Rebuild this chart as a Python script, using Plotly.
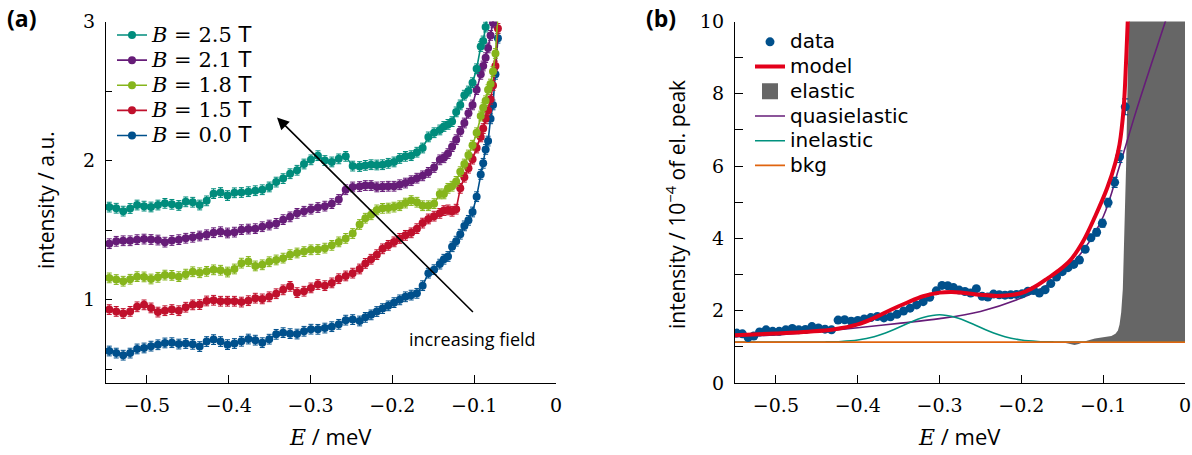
import plotly.graph_objects as go

# ---------------- panel (a) data ----------------
E_a = [-0.546, -0.5375, -0.529, -0.5205, -0.512, -0.5035, -0.495, -0.4865, -0.478, -0.4695,
       -0.461, -0.4525, -0.444, -0.4355, -0.427, -0.4185, -0.410, -0.4015, -0.393, -0.3845,
       -0.376, -0.3675, -0.359, -0.3505, -0.342, -0.3335, -0.325, -0.3165, -0.308, -0.2995,
       -0.291, -0.2825, -0.274, -0.2655, -0.257, -0.2485, -0.240, -0.233, -0.226, -0.219,
       -0.212, -0.205, -0.198, -0.191, -0.184, -0.177, -0.170, -0.163, -0.156, -0.149,
       -0.142, -0.137, -0.132, -0.127, -0.122, -0.117, -0.112, -0.107, -0.102, -0.097,
       -0.092, -0.089, -0.086, -0.083, -0.080, -0.077, -0.074, -0.071]

I_00 = [0.63, 0.615, 0.60, 0.615, 0.645, 0.652, 0.665, 0.675, 0.688, 0.69,
        0.68, 0.684, 0.678, 0.662, 0.698, 0.712, 0.698, 0.676, 0.684, 0.70,
        0.716, 0.708, 0.69, 0.715, 0.75, 0.762, 0.755, 0.752, 0.772, 0.787,
        0.786, 0.795, 0.805, 0.822, 0.852, 0.856, 0.846, 0.872, 0.89, 0.914,
        0.935, 0.955, 0.978, 0.998, 1.02, 1.032, 1.045, 1.10, 1.19, 1.215,
        1.255, 1.29, 1.31, 1.38, 1.42, 1.47, 1.53, 1.57, 1.63, 1.74,
        1.90, 1.98, 2.08, 2.14, 2.30, 2.40, 2.62, 2.88]
I_15 = [0.928, 0.915, 0.90, 0.915, 0.948, 0.962, 0.94, 0.91, 0.92, 0.928,
        0.92, 0.945, 0.962, 0.964, 0.99, 0.995, 0.988, 0.988, 0.988, 0.982,
        0.992, 1.01, 1.005, 1.02, 1.042, 1.07, 1.095, 1.05, 1.06, 1.084,
        1.108, 1.10, 1.12, 1.15, 1.17, 1.19, 1.22, 1.26, 1.29, 1.323,
        1.365, 1.39, 1.415, 1.44, 1.462, 1.48, 1.51, 1.55, 1.58, 1.60,
        1.62, 1.64, 1.645, 1.635, 1.65, 1.80, 1.88, 1.945, 2.01, 2.09,
        2.17, 2.23, 2.30, 2.36, 2.44, 2.54, 2.68, 2.95]
I_18 = [1.156, 1.144, 1.132, 1.146, 1.165, 1.163, 1.148, 1.16, 1.176, 1.174,
        1.165, 1.183, 1.20, 1.193, 1.203, 1.214, 1.211, 1.198, 1.22, 1.262,
        1.274, 1.242, 1.25, 1.272, 1.285, 1.298, 1.323, 1.335, 1.345, 1.358,
        1.36, 1.37, 1.39, 1.415, 1.44, 1.475, 1.54, 1.585, 1.61, 1.645,
        1.656, 1.658, 1.665, 1.675, 1.694, 1.712, 1.70, 1.675, 1.675, 1.69,
        1.76, 1.76, 1.80, 1.815, 1.85, 1.92, 1.975, 2.04, 2.11, 2.20,
        2.32, 2.38, 2.43, 2.51, 2.55, 2.64, 2.77, 3.05]
I_21 = [1.402, 1.419, 1.423, 1.423, 1.431, 1.435, 1.432, 1.428, 1.413, 1.425,
        1.431, 1.441, 1.448, 1.457, 1.466, 1.481, 1.488, 1.479, 1.485, 1.503,
        1.507, 1.51, 1.524, 1.536, 1.548, 1.575, 1.595, 1.62, 1.635, 1.65,
        1.662, 1.672, 1.69, 1.72, 1.79, 1.81, 1.813, 1.82, 1.82, 1.81,
        1.812, 1.815, 1.815, 1.826, 1.838, 1.855, 1.873, 1.89, 1.915, 1.95,
        2.005, 2.02, 2.05, 2.10, 2.15, 2.21, 2.27, 2.34, 2.40, 2.51,
        2.62, 2.68, 2.74, 2.81, 2.90, 2.99, 3.1, None]
I_25 = [1.665, 1.657, 1.636, 1.655, 1.68, 1.672, 1.666, 1.68, 1.692, 1.685,
        1.677, 1.703, 1.70, 1.68, 1.71, 1.762, 1.77, 1.748, 1.768, 1.77,
        1.776, 1.783, 1.79, 1.81, 1.845, 1.87, 1.905, 1.93, 1.975, 2.005,
        2.035, 2.00, 1.99, 2.012, 2.03, 1.96, 1.957, 1.965, 1.97, 1.968,
        1.97, 1.98, 1.99, 2.015, 2.03, 2.035, 2.06, 2.09, 2.17, 2.20,
        2.22, 2.245, 2.26, 2.28, 2.35, 2.40, 2.47, 2.50, 2.56, 2.66,
        2.82, 2.86, 2.96, 3.1, None, None, None, None]

fields = ["0.0", "1.5", "1.8", "2.1", "2.5"]
series_a = [I_00, I_15, I_18, I_21, I_25]
colors_a = ["#00508C", "#C0102C", "#86B51C", "#661C78", "#008C7C"]
err_a = 0.035

# ---------------- panel (b) data ----------------
E_b = [-0.548, -0.541, -0.534, -0.527, -0.520, -0.512, -0.504, -0.496, -0.488, -0.480,
       -0.472, -0.464, -0.456, -0.448, -0.440, -0.432, -0.424, -0.416, -0.408, -0.400,
       -0.392, -0.384, -0.376, -0.368, -0.360, -0.352, -0.344, -0.336, -0.328, -0.320,
       -0.312, -0.304, -0.297, -0.290, -0.283, -0.276, -0.269, -0.262, -0.255, -0.248,
       -0.241, -0.234, -0.227, -0.220, -0.213, -0.206, -0.199, -0.192, -0.185, -0.178,
       -0.171, -0.164, -0.157, -0.150, -0.143, -0.136, -0.129, -0.122, -0.115, -0.108,
       -0.101, -0.094, -0.086, -0.080, -0.073]
I_b = [1.38, 1.36, 1.26, 1.30, 1.41, 1.47, 1.43, 1.43, 1.47, 1.51,
       1.47, 1.48, 1.56, 1.52, 1.49, 1.47, 1.74, 1.75, 1.71, 1.73,
       1.77, 1.81, 1.84, 1.80, 1.83, 1.90, 1.99, 2.07, 2.16, 2.25,
       2.37, 2.55, 2.70, 2.69, 2.64, 2.57, 2.53, 2.49, 2.61, 2.40,
       2.38, 2.46, 2.44, 2.43, 2.44, 2.45, 2.47, 2.54, 2.56, 2.49,
       2.58, 2.75, 2.93, 3.08, 3.19, 3.28, 3.40, 3.70, 4.02, 4.17,
       4.42, 4.99, 5.55, 6.26, 7.64]
err_b = [0.06] * 55 + [0.07, 0.08, 0.08, 0.09, 0.10, 0.11, 0.12, 0.14, 0.16, 0.22]

E_model = [-0.55, -0.50, -0.46, -0.43, -0.40, -0.38, -0.36, -0.34, -0.32, -0.30,
           -0.285, -0.27, -0.25, -0.23, -0.21, -0.195, -0.18, -0.167, -0.155, -0.14,
           -0.125, -0.11, -0.095, -0.085, -0.08, -0.075, -0.072, -0.070, -0.069]
I_model = [1.32, 1.37, 1.42, 1.48, 1.62, 1.80, 2.02, 2.22, 2.40, 2.50,
           2.52, 2.49, 2.44, 2.41, 2.44, 2.53, 2.71, 2.91, 3.10, 3.40,
           3.90, 4.60, 5.40, 6.10, 6.60, 7.60, 8.90, 10.0, 10.5]

E_quasi = [-0.55, -0.50, -0.45, -0.40, -0.35, -0.30, -0.25, -0.20, -0.175, -0.15,
           -0.125, -0.10, -0.08, -0.06, -0.04, -0.024, -0.02]
I_quasi = [1.28, 1.33, 1.42, 1.53, 1.65, 1.78, 1.98, 2.35, 2.62, 3.05,
           3.65, 4.6, 6.0, 7.5, 8.9, 10.0, 10.3]

E_inel = [-0.55, -0.50, -0.46, -0.44, -0.42, -0.40, -0.38, -0.36, -0.34, -0.32,
          -0.30, -0.28, -0.26, -0.24, -0.22, -0.20, -0.18, -0.16, -0.14, -0.10, 0.0]
I_inel = [1.13, 1.131, 1.133, 1.136, 1.15, 1.19, 1.28, 1.44, 1.64, 1.81,
          1.886, 1.81, 1.64, 1.44, 1.28, 1.19, 1.15, 1.136, 1.133, 1.13, 1.13]

E_bkg = [-0.55, 0.0]
I_bkg = [1.13, 1.13]

E_el = [-0.150, -0.140, -0.135, -0.130, -0.120, -0.110, -0.100, -0.090, -0.085, -0.082,
        -0.080, -0.078, -0.076, -0.074, -0.072, -0.070, -0.068, -0.066, 0.0]
I_el = [1.13, 1.08, 1.05, 1.08, 1.17, 1.23, 1.27, 1.30, 1.36, 1.45,
        1.62, 1.95, 2.6, 4.0, 6.0, 8.5, 10.0, 12.0, 12.0]

# ---------------- styling ----------------
SANS = "Open Sans"
LEGSANS = "DejaVu Sans"
SERIF = "DejaVu Serif"
W, H = 1192, 455


def px(xp):
    return xp / W


def py(yp):
    return 1 - yp / H


def big(t, size, extra=""):
    return f'<span style="font-size:{size}px;{extra}">{t}</span>'


fig = go.Figure()

# elastic fill (panel b)
fig.add_trace(go.Scatter(
    x=E_el + E_el[::-1], y=I_el + [I_bkg[0]] * len(E_el),
    fill="toself", fillcolor="#666666", line=dict(width=0, color="#666666"),
    mode="lines", name="elastic", xaxis="x2", yaxis="y2", showlegend=False,
    hoverinfo="skip"))
# legend-only symbol for elastic
fig.add_trace(go.Scatter(
    x=[None], y=[None], mode="markers",
    marker=dict(symbol="square", size=18, color="#666666"),
    name=big("elastic", 20), xaxis="x2", yaxis="y2", legend="legend2", legendrank=3))
fig.add_trace(go.Scatter(
    x=E_quasi, y=I_quasi, mode="lines", line=dict(color="#661C78", width=1.6, shape="spline"),
    name=big("quasielastic", 20), xaxis="x2", yaxis="y2", legend="legend2", legendrank=4))
fig.add_trace(go.Scatter(
    x=E_inel, y=I_inel, mode="lines", line=dict(color="#00917E", width=1.6, shape="spline"),
    name=big("inelastic", 20), xaxis="x2", yaxis="y2", legend="legend2", legendrank=5))
fig.add_trace(go.Scatter(
    x=E_bkg, y=I_bkg, mode="lines", line=dict(color="#E0640F", width=1.8),
    name=big("bkg", 20), xaxis="x2", yaxis="y2", legend="legend2", legendrank=6))
fig.add_trace(go.Scatter(
    x=E_b, y=I_b, mode="markers",
    marker=dict(color="#00508C", size=9),
    error_y=dict(type="data", array=err_b, color="#00508C", thickness=1.2, width=3),
    name=big("data", 20), xaxis="x2", yaxis="y2", legend="legend2", legendrank=1))
fig.add_trace(go.Scatter(
    x=E_model, y=I_model, mode="lines", line=dict(color="#E3001B", width=4, shape="spline"),
    name=big("model", 20), xaxis="x2", yaxis="y2", legend="legend2", legendrank=2))

# panel (a)
for b, ys, c in zip(fields, series_a, colors_a):
    nm = (big("B", 21, "font-style:italic") + big(f" = {b}", 21)
          + big(" T", 21, f"font-family:{LEGSANS}"))
    fig.add_trace(go.Scatter(
        x=E_a, y=ys, mode="lines+markers",
        line=dict(color=c, width=1.6),
        marker=dict(color=c, size=8),
        error_y=dict(type="constant", value=err_a, color=c, thickness=1, width=2.5),
        name=nm, xaxis="x", yaxis="y", legend="legend", connectgaps=False))

axis_common = dict(showline=True, linecolor="black", linewidth=1.3, ticks="inside",
                   tickcolor="black", tickwidth=1.2, showgrid=False, zeroline=False,
                   mirror=False, automargin=False,
                   tickfont=dict(family=SERIF, size=19, color="black"))

ydom = [py(383), py(21.5)]
xt = [-0.5, -0.4, -0.3, -0.2, -0.1, 0]
xtt = ["\u22120.5", "\u22120.4", "\u22120.3", "\u22120.2", "\u22120.1", "0"]

fig.update_layout(
    width=W, height=H, margin=dict(l=0, r=0, t=0, b=0),
    paper_bgcolor="white", plot_bgcolor="white",
    font=dict(family=SANS, color="black"),
    xaxis=dict(domain=[px(106), px(556)], range=[-0.55, 0], anchor="y",
               tickvals=xt, ticktext=xtt, ticklen=8, ticklabelstandoff=5, **axis_common),
    yaxis=dict(domain=ydom, range=[0.4, 3.0], anchor="x",
               tickvals=[0.5, 1, 1.5, 2, 2.5, 3], ticktext=["", "1", "", "2", "", "3"],
               ticklen=6, ticklabelstandoff=6, **axis_common),
    xaxis2=dict(domain=[px(735), px(1185)], range=[-0.55, 0], anchor="y2",
                tickvals=xt, ticktext=xtt, ticklen=8, ticklabelstandoff=5, **axis_common),
    yaxis2=dict(domain=ydom, range=[0, 10], anchor="x2",
                tickvals=list(range(0, 11)),
                ticktext=["0", "", "2", "", "4", "", "6", "", "8", "", "10"],
                ticklen=8, ticklabelstandoff=6, **axis_common),
    legend=dict(x=px(112), y=py(17.5), xanchor="left", yanchor="top",
                bgcolor="rgba(0,0,0,0)", traceorder="reversed",
                font=dict(family=SERIF, size=17, color="black"), tracegroupgap=0),
    legend2=dict(x=px(750), y=py(24.5), xanchor="left", yanchor="top",
                 bgcolor="rgba(0,0,0,0)", traceorder="normal",
                 font=dict(family=LEGSANS, size=16.7, color="black"), tracegroupgap=0),
    showlegend=True,
)

ann_base = dict(xref="paper", yref="paper", showarrow=False, xanchor="center", yanchor="middle")
annotations = [
    dict(text="<b>(a)</b>", x=px(21), y=py(18), font=dict(family=SANS, size=23), **ann_base),
    dict(text="<b>(b)</b>", x=px(661), y=py(18), font=dict(family=SANS, size=23), **ann_base),
    dict(text="intensity / a.u.", x=px(46), y=py(200), textangle=-90,
         font=dict(family=SANS, size=21), **ann_base),
    dict(text="intensity / 10<sup>\u22124</sup> of el. peak", x=px(676), y=py(205),
         textangle=-90, font=dict(family=SANS, size=21), **ann_base),
    dict(text=f"<span style=\"font-family:{SERIF}\"><i>E</i></span> / meV", x=px(331), y=py(436),
         font=dict(family=SANS, size=22), **ann_base),
    dict(text=f"<span style=\"font-family:{SERIF}\"><i>E</i></span> / meV", x=px(960), y=py(436),
         font=dict(family=SANS, size=22), **ann_base),
    dict(text="increasing field", x=-0.102, y=0.72, xref="x", yref="y",
         showarrow=False, xanchor="center", yanchor="middle",
         font=dict(family=SANS, size=18)),
    dict(text="", x=-0.341, y=2.31, ax=-0.0997, ay=0.90, xref="x", yref="y",
         axref="x", ayref="y", showarrow=True, arrowhead=2, arrowsize=1.5,
         arrowwidth=1.6, arrowcolor="black", standoff=0),
]
fig.update_layout(annotations=annotations)

fig.write_html("out.html", config={"displayModeBar": False},
               post_script="document.body.style.margin='0';document.body.style.overflow='hidden';")
